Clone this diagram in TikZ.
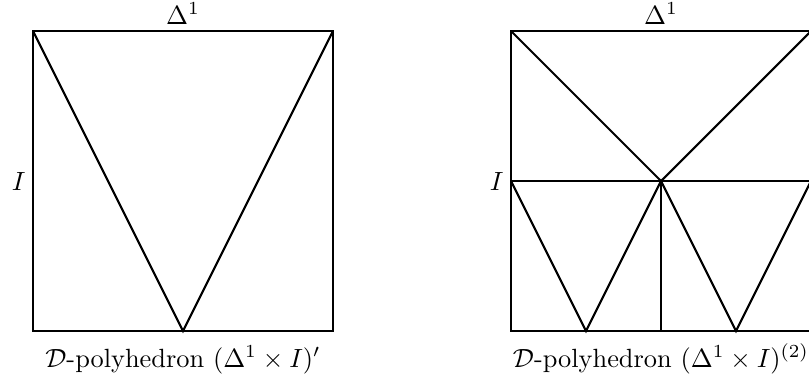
\documentclass[tikz,border=0pt]{standalone}
\usepackage{amsmath}
\begin{document}
\begin{tikzpicture}[x=0.013333cm,y=-0.013333cm,
  edge/.style={line width=0.8pt,line join=miter},
  lbl/.style={inner sep=0pt}]
\useasboundingbox (0,0) rectangle (809,381);
% left square
\coordinate (LA) at (33,31);
\coordinate (LB) at (333,31);
\coordinate (LC) at (333,331);
\coordinate (LD) at (33,331);
\coordinate (LM) at (183,331);
\draw[edge] (LA) -- (LB) -- (LC) -- (LD) -- cycle;
\draw[edge] (LA) -- (LM) -- (LB);
\node[lbl,anchor=south] (ltop) at (183,25) {$\Delta^1$};
\node[lbl,anchor=east] (lI) at (26,181) {$I$};
\node[lbl,anchor=base] (lcap) at (183,367) {$\mathcal{D}$-polyhedron $(\Delta^1\times I)'$};
% right square
\coordinate (RA) at (511,31);
\coordinate (RB) at (811,31);
\coordinate (RC) at (811,331);
\coordinate (RD) at (511,331);
\coordinate (RL) at (511,181);
\coordinate (RR) at (811,181);
\coordinate (RO) at (661,181);
\coordinate (RM) at (661,331);
\coordinate (RP) at (586,331);
\coordinate (RQ) at (736,331);
\draw[edge] (RA) -- (RB) -- (RC) -- (RD) -- cycle;
\draw[edge] (RL) -- (RR);
\draw[edge] (RA) -- (RO) -- (RB);
\draw[edge] (RO) -- (RM);
\draw[edge] (RL) -- (RP) -- (RO) -- (RQ) -- (RR);
\node[lbl,anchor=south] (rtop) at (661,25) {$\Delta^1$};
\node[lbl,anchor=east] (rI) at (504,181) {$I$};
\node[lbl,anchor=base] (rcap) at (661,367) {$\mathcal{D}$-polyhedron $(\Delta^1\times I)^{(2)}$};
\end{tikzpicture}
\end{document}
